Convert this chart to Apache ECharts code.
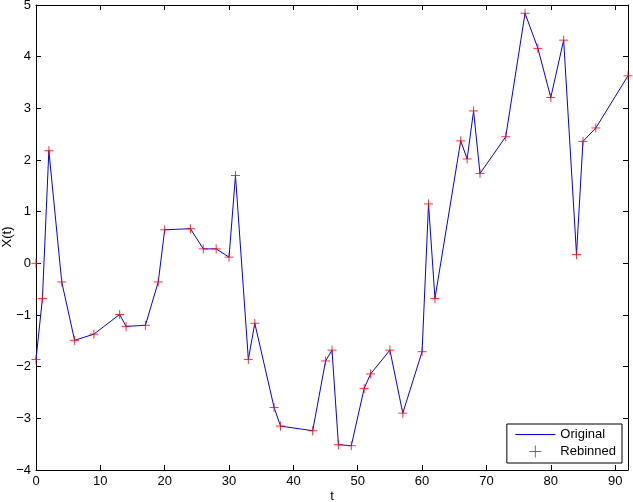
<!DOCTYPE html>
<html>
<head>
<meta charset="utf-8">
<script src="https://cdn.jsdelivr.net/npm/echarts@6/dist/echarts.min.js"></script>
<style>
  html, body { margin: 0; padding: 0; background: #fff; }
  #chart { width: 633px; height: 502px; }
</style>
</head>
<body>
<div id="chart"></div>
<script>
// original signal, sampled at integer t
var tOrig = [0, 1, 2, 4, 6, 9, 13, 14, 17, 19, 20, 24, 26, 28, 30, 31, 33, 34, 37, 38,
             43, 45, 46, 47, 49, 51, 52, 55, 57, 60, 61, 62, 66, 67, 68, 69, 73, 76, 78, 80,
             82, 84, 85, 87, 92];
var xOrig = [-1.86, -0.68, 2.18, -0.36, -1.49, -1.37, -0.99, -1.22, -1.2, -0.36, 0.65, 0.67, 0.28, 0.28, 0.12, 1.7, -1.86, -1.16, -2.79, -3.15,
             -3.24, -1.89, -1.68, -3.51, -3.53, -2.42, -2.14, -1.68, -2.9, -1.71, 1.15, -0.68, 2.37, 2.02, 2.95, 1.74, 2.45, 4.84, 4.16, 3.21,
             4.32, 0.17, 2.36, 2.62, 3.63];
// rebinned points: same samples plus one extra at the origin
var tRebin = [0].concat(tOrig);
var xRebin = [0].concat(xOrig);

var xTicks = [0, 10, 20, 30, 40, 50, 60, 70, 80, 90];
var yTicks = [-4, -3, -2, -1, 0, 1, 2, 3, 4, 5];

function pairs(a, b) {
    var out = [];
    for (var i = 0; i < a.length; i++) out.push([a[i], b[i]]);
    return out;
}

var font = 'Liberation Sans';
var chart = echarts.init(document.getElementById('chart'));

function axisBase(extra) {
    var ax = {
        type: 'value',
        axisLine: { show: true, onZero: false, lineStyle: { color: '#000', width: 1 } },
        axisTick: { show: true, inside: true, length: 5, lineStyle: { color: '#000' } },
        splitLine: { show: false },
        axisLabel: { color: '#000', fontFamily: font, fontSize: 13 }
    };
    for (var k in extra) ax[k] = extra[k];
    return ax;
}

var plusPath = 'path://M5,0 L5,10 M0,5 L10,5';

var option = {
    animation: false,
    backgroundColor: '#fff',
    grid: { left: 36, right: 5, top: 5, bottom: 32, containLabel: false, outerBoundsMode: 'none' },
    // axis titles
    graphic: [
        { type: 'text', x: 332, y: 496,
          style: { text: 't', fill: '#000', font: '13px "Liberation Sans"', align: 'center', verticalAlign: 'middle' } },
        { type: 'text', x: 7, y: 237, rotation: Math.PI / 2,
          style: { text: 'X(t)', fill: '#000', font: '13px "Liberation Sans"', align: 'center', verticalAlign: 'middle' } }
    ],
    xAxis: [
        axisBase({
            min: 0, max: 92, interval: 10, position: 'bottom',
            axisLabel: { color: '#000', fontFamily: font, fontSize: 13, margin: 5,
                formatter: function (v) { return xTicks.indexOf(v) >= 0 ? String(v) : ''; } }
        }),
        axisBase({ min: 0, max: 92, interval: 10, position: 'top', axisLabel: { show: false } })
    ],
    yAxis: [
        axisBase({
            min: -4, max: 5, interval: 1, position: 'left',
            axisLabel: { color: '#000', fontFamily: font, fontSize: 13, margin: 5,
                formatter: function (v) {
                    if (yTicks.indexOf(v) < 0) return '';
                    return v < 0 ? '\u2212' + Math.abs(v) : String(v);
                } }
        }),
        axisBase({ min: -4, max: 5, interval: 1, position: 'right', axisLabel: { show: false } })
    ],
    legend: {
        show: true,
        right: 11, bottom: 39,
        orient: 'vertical',
        backgroundColor: '#fff',
        borderColor: '#000', borderWidth: 1, borderRadius: 0,
        padding: [4, 6, 3, 8],
        itemGap: 2,
        itemWidth: 40, itemHeight: 12,
        lineStyle: { width: 1 },
        textStyle: { color: '#000', fontFamily: font, fontSize: 13 },
        data: [
            { name: 'Original', itemStyle: { color: 'rgba(0,0,0,0)', borderWidth: 0, opacity: 0 } },
            { name: 'Rebinned', itemStyle: { color: 'none', borderColor: '#ff0000', borderWidth: 1 } }
        ]
    },
    series: [
        {
            name: 'Original',
            type: 'line',
            data: pairs(tOrig, xOrig),
            showSymbol: false,
            lineStyle: { color: '#0000ff', width: 1 },
            itemStyle: { color: '#0000ff' }
        },
        {
            name: 'Rebinned',
            type: 'scatter',
            data: pairs(tRebin, xRebin),
            symbol: plusPath,
            symbolSize: 9,
            symbolKeepAspect: true,
            itemStyle: { color: 'none', borderColor: '#ff0000', borderWidth: 1 },
            z: 3
        }
    ]
};

chart.setOption(option);
window.addEventListener('resize', chart.resize);
</script>
</body>
</html>
